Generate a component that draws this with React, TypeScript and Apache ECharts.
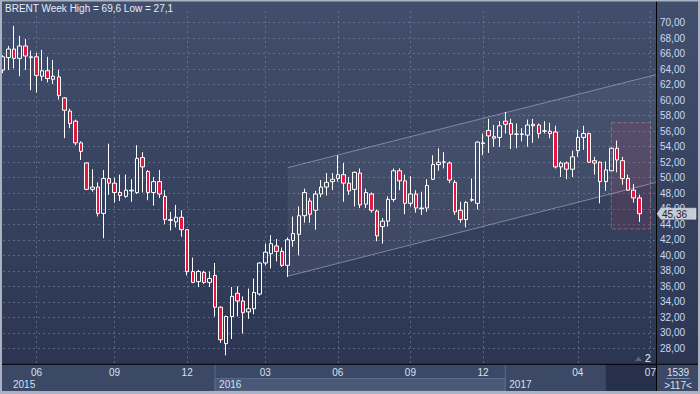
import { useEffect, useRef } from 'react';
import * as echarts from 'echarts';

// ---------- data ----------
const FIRST_WEEK = '2015-04-20';
const EXTRA_BAR_AFTER = '2015-12-28';
const EXTRA_BAR_DATE = '2016-01-01';
const SLOT_COUNT = 118;

const opens = [
  63.9, 65.5, 66.6, 65.4, 67.0, 65.5, 65.6, 63.1, 63.8, 62.7,
  63.0, 60.3, 58.6, 57.3, 54.5, 51.9, 48.5, 48.8, 45.4, 49.9,
  49.3, 48.1, 47.6, 48.3, 48.1, 52.6, 50.8, 48.1, 49.5, 47.6,
  44.5, 44.3, 44.9, 43.3, 37.9, 36.6, 37.8, 36.5, 37.4, 33.3,
  28.6, 32.1, 35.1, 34.1, 32.7, 33.1, 35.0, 39.0, 40.2, 41.2,
  40.5, 38.7, 41.9, 42.7, 45.1, 47.0, 45.8, 47.9, 48.8, 49.5,
  49.9, 50.4, 49.3, 48.5, 50.6, 46.6, 47.9, 45.7, 43.7, 44.4,
  47.2, 50.9, 49.6, 46.7, 47.9, 46.0, 46.1, 49.8, 51.7, 52.0,
  51.9, 49.4, 45.8, 44.6, 47.1, 46.7, 54.4, 56.1, 55.3, 55.2,
  57.3, 57.0, 55.6, 55.6, 55.5, 56.9, 56.8, 56.0, 56.0, 55.9,
  51.4, 51.9, 51.1, 53.5, 55.2, 55.7, 52.2, 52.0, 49.5, 50.9,
  53.8, 52.2, 49.9, 48.4, 47.4,
];
const closes = [
  65.6, 66.6, 65.4, 67.0, 65.7, 65.6, 63.2, 63.8, 62.8, 63.1,
  60.6, 58.7, 57.0, 54.5, 53.4, 48.5, 48.8, 45.4, 49.9, 49.3,
  48.1, 47.7, 48.4, 48.4, 52.5, 51.4, 48.1, 49.5, 47.9, 44.6,
  44.6, 44.9, 43.3, 37.9, 36.5, 37.9, 36.5, 37.0, 33.3, 29.1,
  32.1, 34.7, 34.1, 32.6, 33.1, 35.2, 39.0, 40.4, 41.5, 40.5,
  38.7, 42.0, 42.8, 45.1, 48.1, 45.3, 47.9, 48.8, 49.4, 49.8,
  50.4, 49.3, 48.3, 50.7, 46.5, 48.1, 45.8, 42.5, 44.4, 47.2,
  50.9, 49.6, 46.7, 47.9, 46.1, 46.1, 49.0, 51.7, 52.0, 52.05,
  49.7, 45.6, 44.6, 46.8, 47.2, 54.6, 54.5, 55.4, 55.1, 56.7,
  56.9, 55.6, 55.65, 55.65, 56.8, 56.7, 55.7, 56.05, 55.7, 51.4,
  51.9, 51.1, 52.7, 55.2, 55.7, 52.0, 51.9, 49.5, 51.0, 53.8,
  52.3, 49.9, 48.4, 47.4, 45.36,
];
const lows = [
  63.5, 63.9, 64.1, 63.1, 63.9, 61.3, 61.0, 62.5, 62.3, 62.1,
  60.1, 55.1, 56.4, 54.2, 52.3, 48.4, 48.2, 45.0, 42.2, 47.8,
  46.8, 47.0, 47.4, 46.9, 47.9, 48.1, 47.1, 46.4, 47.4, 44.0,
  43.2, 43.6, 42.4, 37.4, 36.4, 35.9, 36.3, 35.9, 32.1, 28.7,
  27.1, 29.2, 32.1, 29.9, 31.8, 32.4, 34.8, 38.7, 38.3, 39.2,
  38.5, 37.2, 41.1, 40.0, 44.2, 44.2, 43.3, 47.5, 47.7, 48.4,
  49.5, 46.9, 47.8, 46.3, 46.1, 46.1, 45.5, 41.8, 41.5, 43.7,
  46.9, 48.4, 45.3, 46.3, 45.5, 45.2, 45.6, 49.7, 50.9, 51.2,
  49.3, 45.2, 44.2, 43.6, 46.9, 45.9, 52.9, 53.2, 54.0, 54.0,
  55.7, 53.7, 53.8, 54.7, 54.0, 54.5, 55.1, 55.7, 55.1, 51.2,
  50.1, 49.8, 50.1, 52.7, 53.6, 51.9, 50.4, 46.7, 48.3, 50.9,
  50.7, 49.1, 48.3, 46.8, 44.3,
];
const highs = [
  65.8, 67.0, 69.6, 68.3, 67.9, 66.4, 66.1, 66.5, 65.6, 65.2,
  63.9, 60.4, 58.9, 57.5, 54.7, 52.0, 51.1, 49.4, 51.0, 54.4,
  50.0, 50.4, 50.4, 49.8, 54.2, 53.3, 51.0, 50.1, 51.0, 48.4,
  45.6, 46.5, 45.8, 43.3, 39.7, 38.1, 38.0, 37.9, 39.0, 33.4,
  32.2, 35.9, 36.0, 34.7, 35.7, 37.0, 39.1, 41.5, 42.6, 42.1,
  41.0, 42.3, 45.0, 46.3, 48.6, 47.4, 48.3, 49.7, 50.6, 50.6,
  52.9, 51.9, 50.1, 50.8, 51.2, 48.6, 48.1, 45.9, 44.8, 47.6,
  51.2, 51.2, 50.4, 50.2, 48.4, 48.2, 49.8, 52.9, 53.8, 53.3,
  52.1, 49.7, 46.9, 47.0, 49.9, 54.7, 55.7, 57.6, 56.8, 57.3,
  58.5, 57.6, 57.0, 56.4, 57.5, 57.6, 57.0, 57.3, 57.1, 56.7,
  52.1, 52.1, 53.5, 56.2, 56.7, 55.8, 52.7, 52.1, 52.1, 53.9,
  54.8, 52.7, 50.4, 49.2, 47.8,
];

const monthTickDates = [
  '2015-06-01', '2015-09-07', '2015-12-07', '2016-03-07', '2016-06-06',
  '2016-09-05', '2016-12-05', '2017-04-03', '2017-07-03',
];
const yearStartDates = ['2015-04-20', '2016-01-04', '2017-01-02'];
const yearLabels = ['2015', '2016', '2017'];
const dimFromDate = '2017-05-08';

const channelDates = ['2016-04-04', '2017-07-10'];
const channelLower = [37.3, 49.4];
const channelUpper = [51.3, 63.3];

const zoneDates = ['2017-05-15', '2017-07-03'];
const zonePrices = [57.1, 43.4];

const barsTotalText = '1539';
const barsVisibleText = '>117<';
const markerCountText = '2';

// ---------- helpers ----------
function buildWeeks(): string[] {
  const out: string[] = [];
  const [y, m, d] = FIRST_WEEK.split('-').map(Number);
  const dt = new Date(Date.UTC(y, m - 1, d));
  while (out.length < SLOT_COUNT) {
    const s = dt.toISOString().slice(0, 10);
    out.push(s);
    if (s === EXTRA_BAR_AFTER) out.push(EXTRA_BAR_DATE);
    dt.setUTCDate(dt.getUTCDate() + 7);
  }
  return out.slice(0, SLOT_COUNT);
}
const fmt = (v: number, d: number) => v.toFixed(d).replace('.', ',');

const FONT = "'Liberation Sans', Arial, sans-serif";

export default function App() {
  const ref = useRef<HTMLDivElement>(null);

  useEffect(() => {
    document.body.style.margin = '0';
    if (!ref.current) return;
    const chart = echarts.init(ref.current, undefined, { renderer: 'svg' });
    const weeks = buildWeeks();
    const candles = opens.map((o, i) => [o, closes[i], lows[i], highs[i]]);
    const hi = Math.max(...highs);
    const lo = Math.min(...lows);
    const lastClose = closes[closes.length - 1];
    const dimIdx = weeks.indexOf(dimFromDate);

    const grid = { left: 3, right: 44, top: 11.07, bottom: 30.2 };
    const dashed = { type: [2, 3] as any, color: 'rgba(125,140,172,0.55)', width: 1 };

    chart.setOption({
      animation: false,
      backgroundColor: new echarts.graphic.LinearGradient(0, 0, 0, 1, [
        { offset: 0, color: '#424f6c' },
        { offset: 1, color: '#2a3451' },
      ]),
      textStyle: { fontFamily: FONT },
      grid,
      xAxis: {
        type: 'category',
        data: weeks,
        boundaryGap: false,
        axisLine: { show: false },
        axisTick: { show: false },
        axisLabel: {
          interval: (_i: number, v: string) => monthTickDates.includes(v),
          formatter: (v: string) => v.slice(5, 7),
          color: (_v: any, i: number) => (i >= dimIdx ? '#7c89a3' : '#d6e0f0'),
          fontSize: 10,
          margin: 4,
          fontFamily: FONT,
        },
        splitLine: {
          show: true,
          interval: (_i: number, v: string) => monthTickDates.includes(v),
          lineStyle: dashed,
        },
      },
      yAxis: {
        type: 'value',
        position: 'right',
        min: 26,
        max: 71.5,
        interval: 2,
        axisLine: { show: false },
        axisTick: { show: false },
        axisLabel: {
          formatter: (v: number) => (v < 28 || v > 70 ? '' : fmt(v, 2)),
          color: '#cbdaf2',
          fontSize: 10,
          margin: 4,
          fontFamily: FONT,
        },
        splitLine: { show: true, showMinLine: false, showMaxLine: false, lineStyle: dashed },
      },
      series: [
        {
          type: 'custom',
          z: 1,
          silent: true,
          encode: { x: [0, 3], y: [1, 2, 4, 5] },
          data: [[
            weeks.indexOf(channelDates[0]), channelLower[0], channelUpper[0],
            weeks.indexOf(channelDates[1]), channelLower[1], channelUpper[1],
          ]],
          renderItem: (_p: any, api: any) => {
            const a = api.coord([api.value(0), api.value(1)]);
            const b = api.coord([api.value(0), api.value(2)]);
            const c = api.coord([api.value(3), api.value(5)]);
            const d = api.coord([api.value(3), api.value(4)]);
            const stroke = 'rgba(190,200,220,0.5)';
            return {
              type: 'group',
              children: [
                { type: 'polygon', shape: { points: [a, b, c, d] }, style: { fill: 'rgba(255,255,255,0.055)' } },
                { type: 'line', shape: { x1: b[0], y1: b[1], x2: c[0], y2: c[1] }, style: { stroke, lineWidth: 1 } },
                { type: 'line', shape: { x1: a[0], y1: a[1], x2: d[0], y2: d[1] }, style: { stroke, lineWidth: 1 } },
              ],
            };
          },
        },
        {
          type: 'candlestick',
          z: 3,
          data: candles,
          barWidth: 4,
          itemStyle: {
            color: 'rgba(0,0,0,0)',
            color0: '#e3173f',
            borderColor: '#ffffff',
            borderColor0: '#ffffff',
            borderWidth: 1,
          },
          markArea: {
            silent: true,
            itemStyle: {
              color: 'rgba(150,55,90,0.2)',
              borderColor: 'rgba(200,125,150,0.55)',
              borderWidth: 1,
              borderType: 'dashed',
            },
            data: [[
              { xAxis: zoneDates[0], yAxis: zonePrices[0] },
              { xAxis: zoneDates[1], yAxis: zonePrices[1] },
            ]],
          },
        },
      ],
    });

    // decorations placed through the chart's own scales
    const px = (date: string) => chart.convertToPixel({ xAxisIndex: 0 }, date) as number;
    const py = (v: number) => chart.convertToPixel({ yAxisIndex: 0 }, v) as number;
    const W = 700, H = 394;
    const plotR = W - grid.right;
    const plotB = H - grid.bottom;
    const bandTop = plotB + 0.5;
    const rowSplit = 378.5;
    const bandBot = 391;
    const yearX = yearStartDates.map(px);
    const dimX = px(dimFromDate);
    const tagY = py(lastClose);
    const frame = '#aab2c2';
    const g: any[] = [];
    // bottom band
    g.push({ type: 'rect', z: -1, shape: { x: 2, y: bandTop, width: plotR - 2, height: bandBot - bandTop }, style: { fill: '#3b4866' } });
    g.push({ type: 'rect', z: -1, shape: { x: yearX[1], y: rowSplit, width: yearX[2] - yearX[1], height: bandBot - rowSplit }, style: { fill: '#4a5877', stroke: '#5b6a88', lineWidth: 1 } });
    g.push({ type: 'rect', z: -1, shape: { x: dimX, y: bandTop, width: plotR - dimX, height: bandBot - bandTop }, style: { fill: '#27304a' } });
    [yearX[1], yearX[2]].forEach((x) => {
      g.push({ type: 'line', z: -1, shape: { x1: x, y1: bandTop, x2: x, y2: bandBot }, style: { stroke: '#5b6a88', lineWidth: 1 } });
    });
    yearLabels.forEach((t, i) => {
      g.push({ type: 'text', z: 5, x: Math.max(yearX[i] + 4, 13), y: 384, style: { text: t, fill: '#d6e0f0', font: `10px ${FONT}`, verticalAlign: 'middle' } });
    });
    // right bottom box
    g.push({ type: 'rect', z: -1, shape: { x: plotR, y: bandTop, width: W - plotR - 2, height: bandBot - bandTop }, style: { fill: '#3b4866' } });
    g.push({ type: 'text', z: 5, x: 678, y: 372, style: { text: barsTotalText, fill: '#d6e0f0', font: `10px ${FONT}`, align: 'center', verticalAlign: 'middle' } });
    g.push({ type: 'line', z: 5, shape: { x1: 666, y1: 378.5, x2: 690, y2: 378.5 }, style: { stroke: '#7d8aa5', lineWidth: 1 } });
    g.push({ type: 'text', z: 5, x: 678, y: 385.5, style: { text: barsVisibleText, fill: '#d6e0f0', font: `10px ${FONT}`, align: 'center', verticalAlign: 'middle' } });
    // black separators
    g.push({ type: 'line', z: 6, shape: { x1: plotR + 0.5, y1: 0, x2: plotR + 0.5, y2: bandBot }, style: { stroke: '#000', lineWidth: 1 } });
    g.push({ type: 'line', z: 6, shape: { x1: 2, y1: plotB + 0.5, x2: W - 2, y2: plotB + 0.5 }, style: { stroke: '#000', lineWidth: 1 } });
    // marker counter
    g.push({ type: 'polygon', z: 5, shape: { points: [[635, 361], [642, 361], [638.5, 356.5]] }, style: { fill: '#5a667e' } });
    g.push({ type: 'text', z: 5, x: 645, y: 358.5, style: { text: markerCountText, fill: '#e8eef8', font: `10px ${FONT}`, verticalAlign: 'middle' } });
    // price tag
    g.push({ type: 'polygon', z: 6, shape: { points: [[plotR + 1, tagY], [plotR + 5, tagY - 5.5], [W - 4, tagY - 5.5], [W - 4, tagY + 5.5], [plotR + 5, tagY + 5.5]] }, style: { fill: '#c7cbd4', stroke: '#e8eaee', lineWidth: 0.5 } });
    g.push({ type: 'text', z: 7, x: plotR + 6, y: tagY + 0.5, style: { text: fmt(lastClose, 2), fill: '#1b2236', font: `10px ${FONT}`, verticalAlign: 'middle' } });
    // title
    g.push({ type: 'text', z: 7, x: 5, y: 8.5, style: { text: `BRENT Week High = ${fmt(hi, 1)} Low = ${fmt(lo, 1)}`, fill: '#e6ecf6', font: `10px ${FONT}`, verticalAlign: 'middle' } });
    // outer frame
    g.push({ type: 'rect', z: 8, shape: { x: 0, y: 0, width: 2, height: H }, style: { fill: frame } });
    g.push({ type: 'rect', z: 8, shape: { x: 0, y: 0, width: W, height: 1.5 }, style: { fill: frame } });
    g.push({ type: 'rect', z: 8, shape: { x: W - 2, y: 0, width: 2, height: H }, style: { fill: frame } });
    g.push({ type: 'rect', z: 8, shape: { x: 0, y: bandBot, width: W, height: H - bandBot }, style: { fill: frame } });

    chart.setOption({ graphic: g });

    return () => chart.dispose();
  }, []);

  return <div ref={ref} style={{ width: 700, height: 394 }} />;
}
